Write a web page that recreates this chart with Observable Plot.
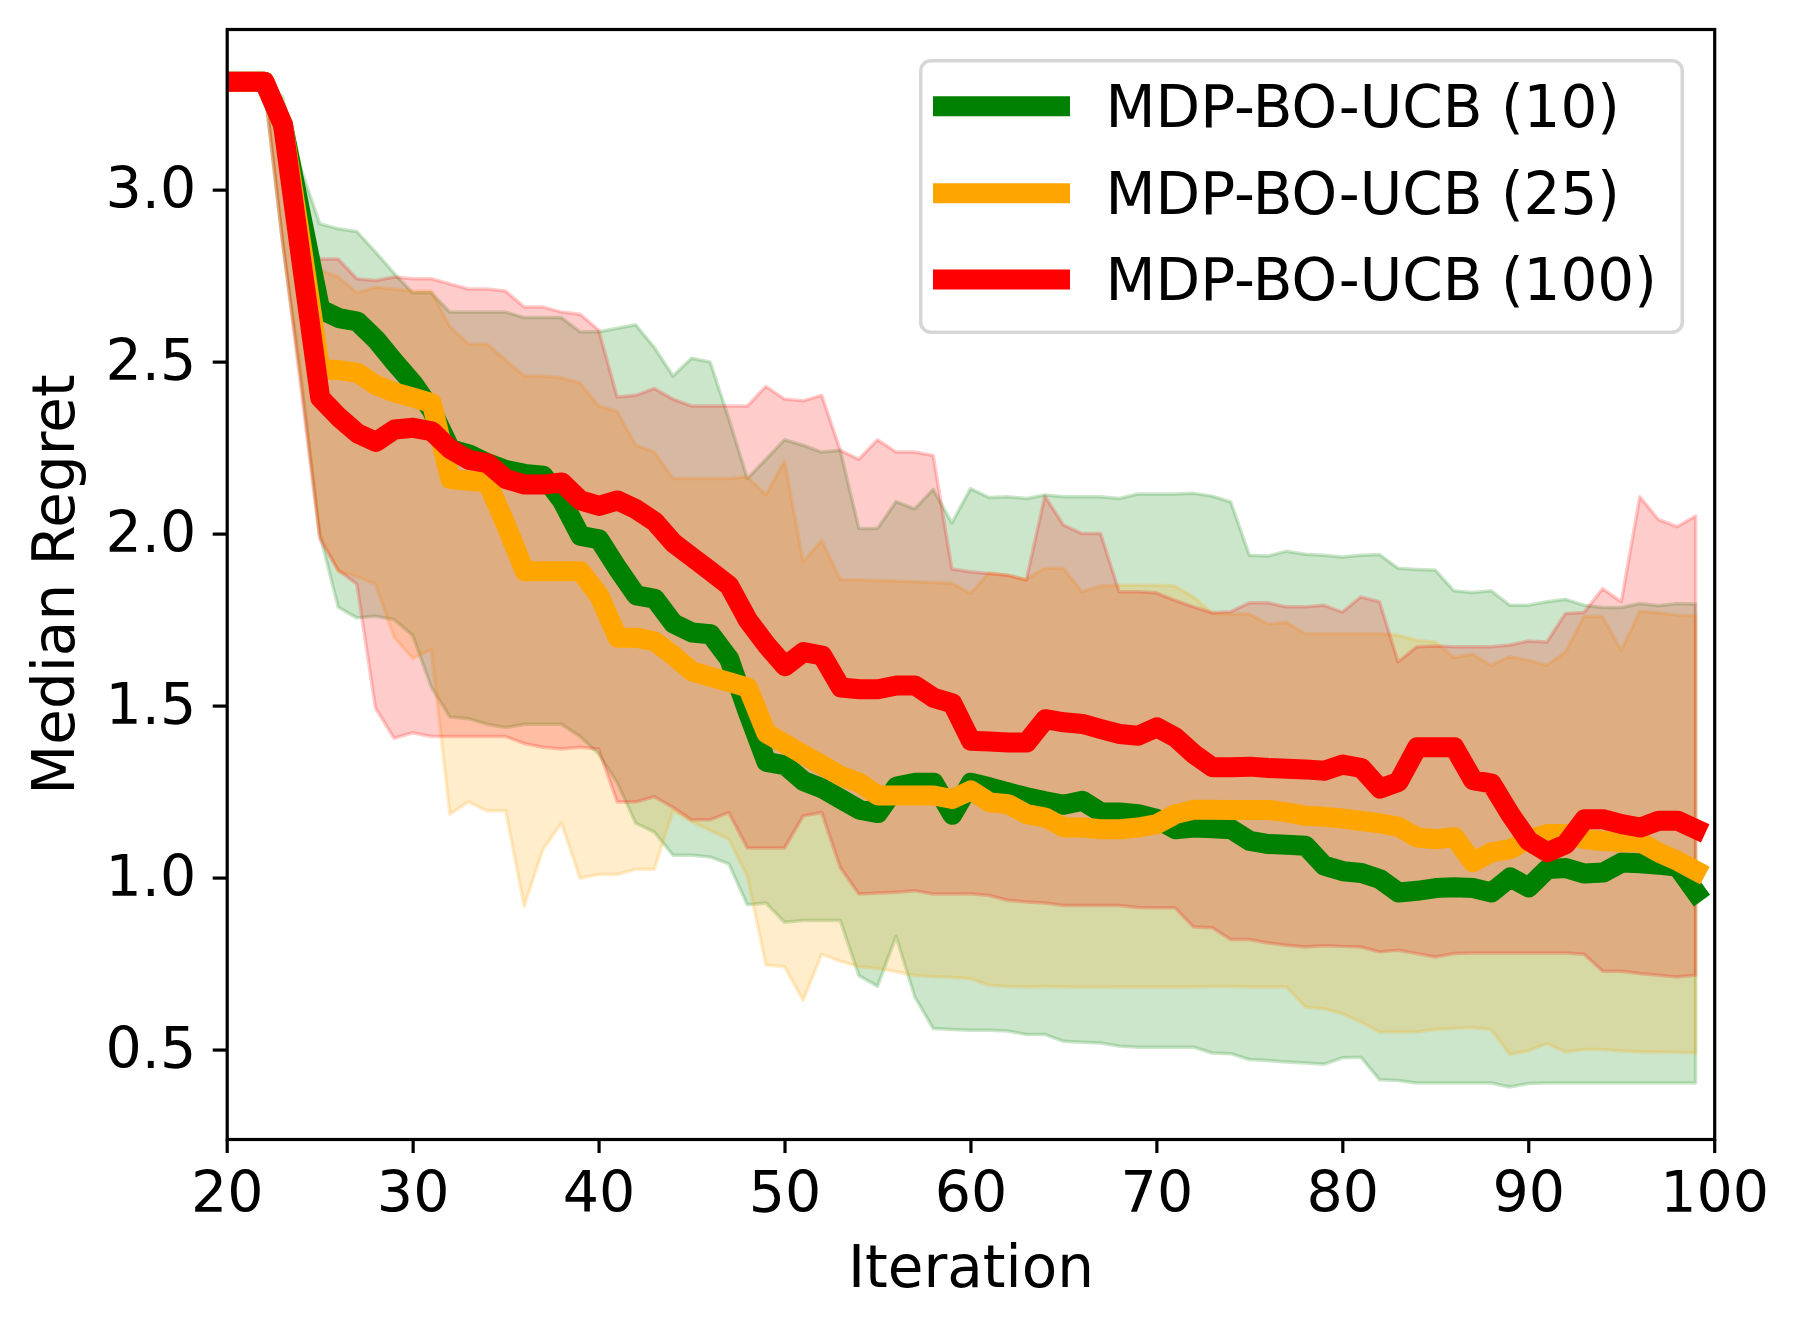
<!DOCTYPE html>
<html>
<head>
<meta charset="utf-8">
<script src="https://cdn.jsdelivr.net/npm/d3@7"></script>
<script src="https://cdn.jsdelivr.net/npm/@observablehq/plot@0.6"></script>
<style>
  html, body { margin: 0; padding: 0; background: #fff; }
  #chart { width: 1799px; height: 1328px; }
</style>
</head>
<body>
<div id="chart"></div>
<script>
// ---------- data ----------
const iterations = d3.range(20, 100); // 20 .. 99

const seriesNames = ["MDP-BO-UCB (10)", "MDP-BO-UCB (25)", "MDP-BO-UCB (100)"];
const seriesColors = ["#008000", "#FFA500", "#FF0000"];

const xTicks = [20, 30, 40, 50, 60, 70, 80, 90, 100];
const yTicks = [0.5, 1.0, 1.5, 2.0, 2.5, 3.0];

const greenMedian = [
  3.315, 3.315, 3.315, 3.19, 2.92, 2.654, 2.628, 2.618, 2.566, 2.500,
  2.438, 2.36, 2.247, 2.232, 2.206, 2.186, 2.175, 2.170, 2.098, 1.995,
  1.985, 1.90, 1.822, 1.812, 1.740, 1.714, 1.709, 1.637, 1.482, 1.338,
  1.328, 1.282, 1.261, 1.230, 1.199, 1.189, 1.266, 1.277, 1.277, 1.184,
  1.277, 1.264, 1.249, 1.235, 1.223, 1.213, 1.225, 1.191, 1.191, 1.186,
  1.172, 1.142, 1.147, 1.145, 1.142, 1.108, 1.099, 1.097, 1.094, 1.036,
  1.020, 1.015, 0.997, 0.958, 0.963, 0.971, 0.973, 0.971, 0.958, 1.002,
  0.973, 1.026, 1.029, 1.013, 1.016, 1.045, 1.043, 1.039, 1.033, 0.958
];
const greenLow = [
  3.315, 3.315, 3.315, 2.85, 2.45, 2.00, 1.786, 1.755, 1.760, 1.750,
  1.704, 1.554, 1.467, 1.462, 1.446, 1.436, 1.446, 1.446, 1.446, 1.410,
  1.359, 1.276, 1.158, 1.132, 1.065, 1.065, 1.060, 1.040, 0.921, 0.926,
  0.870, 0.875, 0.875, 0.875, 0.715, 0.684, 0.829, 0.654, 0.561, 0.558,
  0.556, 0.556, 0.554, 0.544, 0.544, 0.524, 0.521, 0.519, 0.510, 0.507,
  0.507, 0.507, 0.507, 0.490, 0.488, 0.471, 0.468, 0.464, 0.461, 0.457,
  0.476, 0.478, 0.412, 0.410, 0.403, 0.403, 0.403, 0.403, 0.403, 0.391,
  0.401, 0.403, 0.403, 0.403, 0.403, 0.403, 0.403, 0.403, 0.403, 0.403
];
const greenHigh = [
  3.315, 3.315, 3.315, 3.27, 3.06, 2.901, 2.886, 2.878, 2.819, 2.757,
  2.700, 2.700, 2.644, 2.644, 2.644, 2.644, 2.628, 2.628, 2.628, 2.587,
  2.587, 2.597, 2.607, 2.541, 2.458, 2.510, 2.499, 2.335, 2.160, 2.216,
  2.273, 2.257, 2.237, 2.242, 2.015, 2.015, 2.093, 2.072, 2.129, 2.031,
  2.131, 2.105, 2.107, 2.102, 2.112, 2.107, 2.107, 2.107, 2.102, 2.115,
  2.115, 2.115, 2.117, 2.109, 2.092, 1.937, 1.935, 1.949, 1.940, 1.937,
  1.932, 1.937, 1.939, 1.899, 1.896, 1.894, 1.834, 1.829, 1.834, 1.792,
  1.792, 1.802, 1.809, 1.792, 1.785, 1.785, 1.797, 1.790, 1.797, 1.795
];

const orangeMedian = [
  3.315, 3.315, 3.315, 3.19, 2.84, 2.479, 2.477, 2.469, 2.433, 2.412,
  2.397, 2.381, 2.160, 2.155, 2.150, 2.026, 1.892, 1.892, 1.892, 1.892,
  1.822, 1.699, 1.699, 1.688, 1.647, 1.601, 1.585, 1.570, 1.554, 1.421,
  1.390, 1.359, 1.328, 1.297, 1.277, 1.240, 1.240, 1.240, 1.240, 1.230,
  1.255, 1.220, 1.215, 1.186, 1.176, 1.147, 1.147, 1.142, 1.142, 1.147,
  1.157, 1.186, 1.199, 1.199, 1.198, 1.198, 1.198, 1.191, 1.181, 1.178,
  1.173, 1.166, 1.159, 1.149, 1.118, 1.113, 1.119, 1.046, 1.075, 1.084,
  1.113, 1.128, 1.128, 1.113, 1.108, 1.104, 1.104, 1.074, 1.050, 1.021
];
const orangeLow = [
  3.315, 3.315, 3.315, 2.85, 2.45, 2.00, 1.890, 1.875, 1.853, 1.699,
  1.637, 1.663, 1.184, 1.220, 1.194, 1.194, 0.916, 1.081, 1.158, 0.998,
  1.009, 1.009, 1.024, 1.024, 1.194, 1.163, 1.137, 1.112, 1.004, 0.746,
  0.741, 0.643, 0.777, 0.757, 0.741, 0.736, 0.726, 0.715, 0.712, 0.710,
  0.706, 0.687, 0.683, 0.682, 0.683, 0.682, 0.681, 0.681, 0.682, 0.682,
  0.682, 0.682, 0.682, 0.683, 0.683, 0.682, 0.682, 0.682, 0.624, 0.619,
  0.604, 0.580, 0.551, 0.551, 0.551, 0.558, 0.561, 0.564, 0.558, 0.486,
  0.496, 0.517, 0.493, 0.500, 0.500, 0.496, 0.493, 0.493, 0.492, 0.490
];
const orangeHigh = [
  3.315, 3.315, 3.315, 3.26, 2.92, 2.767, 2.746, 2.700, 2.716, 2.711,
  2.705, 2.705, 2.602, 2.551, 2.551, 2.505, 2.458, 2.458, 2.453, 2.438,
  2.371, 2.355, 2.257, 2.237, 2.160, 2.160, 2.160, 2.160, 2.165, 2.113,
  2.211, 1.918, 1.980, 1.866, 1.866, 1.864, 1.862, 1.860, 1.858, 1.856,
  1.826, 1.886, 1.879, 1.867, 1.899, 1.899, 1.831, 1.848, 1.850, 1.850,
  1.850, 1.848, 1.816, 1.768, 1.766, 1.766, 1.737, 1.742, 1.709, 1.709,
  1.709, 1.709, 1.709, 1.705, 1.690, 1.685, 1.640, 1.649, 1.617, 1.642,
  1.632, 1.617, 1.656, 1.760, 1.758, 1.661, 1.774, 1.770, 1.763, 1.761
];

const redMedian = [
  3.315, 3.315, 3.315, 3.19, 2.79, 2.396, 2.340, 2.293, 2.268, 2.304,
  2.309, 2.299, 2.247, 2.216, 2.206, 2.160, 2.144, 2.144, 2.150, 2.098,
  2.082, 2.098, 2.072, 2.036, 1.974, 1.933, 1.892, 1.850, 1.750, 1.678,
  1.616, 1.657, 1.647, 1.554, 1.549, 1.549, 1.560, 1.560, 1.524, 1.508,
  1.399, 1.397, 1.394, 1.394, 1.462, 1.453, 1.448, 1.433, 1.419, 1.414,
  1.438, 1.409, 1.360, 1.322, 1.322, 1.324, 1.320, 1.318, 1.316, 1.312,
  1.330, 1.320, 1.260, 1.280, 1.380, 1.380, 1.380, 1.285, 1.275, 1.186,
  1.108, 1.075, 1.099, 1.171, 1.171, 1.157, 1.147, 1.167, 1.167, 1.142
];
const redLow = [
  3.315, 3.315, 3.315, 2.85, 2.42, 1.985, 1.893, 1.853, 1.493, 1.405,
  1.421, 1.410, 1.410, 1.410, 1.410, 1.410, 1.390, 1.379, 1.374, 1.379,
  1.374, 1.220, 1.220, 1.235, 1.204, 1.168, 1.168, 1.189, 1.086, 1.086,
  1.086, 1.179, 1.189, 1.029, 0.952, 0.955, 0.957, 0.962, 0.952, 0.952,
  0.953, 0.948, 0.934, 0.929, 0.926, 0.919, 0.919, 0.919, 0.919, 0.913,
  0.912, 0.912, 0.856, 0.854, 0.820, 0.820, 0.810, 0.803, 0.798, 0.802,
  0.800, 0.798, 0.784, 0.789, 0.779, 0.769, 0.779, 0.781, 0.781, 0.781,
  0.781, 0.781, 0.781, 0.777, 0.728, 0.728, 0.721, 0.716, 0.711, 0.716
];
const redHigh = [
  3.315, 3.315, 3.315, 3.25, 2.90, 2.798, 2.798, 2.741, 2.736, 2.746,
  2.741, 2.741, 2.726, 2.711, 2.711, 2.705, 2.659, 2.659, 2.644, 2.638,
  2.592, 2.397, 2.402, 2.422, 2.391, 2.371, 2.371, 2.371, 2.371, 2.428,
  2.391, 2.386, 2.402, 2.242, 2.216, 2.273, 2.237, 2.237, 2.227, 1.897,
  1.889, 1.884, 1.879, 1.865, 2.109, 2.025, 2.000, 2.000, 1.831, 1.831,
  1.828, 1.806, 1.787, 1.770, 1.773, 1.799, 1.799, 1.787, 1.787, 1.792,
  1.772, 1.816, 1.802, 1.627, 1.671, 1.673, 1.671, 1.671, 1.671, 1.676,
  1.688, 1.685, 1.768, 1.771, 1.840, 1.802, 2.107, 2.041, 2.020, 2.051
];

// ---------- build tables ----------
const seriesData = [
  [greenMedian, greenLow, greenHigh],
  [orangeMedian, orangeLow, orangeHigh],
  [redMedian, redLow, redHigh]
];
const tables = seriesData.map(([med, lo, hi], s) =>
  iterations.map((it, i) => ({iteration: it, median: med[i], low: lo[i], high: hi[i], name: seriesNames[s]}))
);

const FONT = "'DejaVu Sans', 'Liberation Sans', sans-serif";
const FS = 57;      // tick labels
const FS_LABEL = 58; // axis labels and legend
const LINE_W = 20;

const areaMarks = tables.map((rows, s) =>
  Plot.areaY(rows, {
    x: "iteration", y1: "low", y2: "high",
    fill: seriesColors[s], fillOpacity: 0.2,
    stroke: seriesColors[s], strokeOpacity: 0.2, strokeWidth: 3.5,
    strokeLinejoin: "round", clip: true
  })
);
const lineMarks = tables.map((rows, s) =>
  Plot.lineY(rows, {
    x: "iteration", y: "median",
    stroke: seriesColors[s], strokeWidth: LINE_W,
    strokeLinejoin: "round", strokeLinecap: "square", clip: true
  })
);

const chart = Plot.plot({
  width: 1799,
  height: 1328,
  marginLeft: 226.7,
  marginRight: 84.8,
  marginTop: 29,
  marginBottom: 189,
  style: {fontFamily: FONT, fontSize: FS + "px", background: "#fff", color: "#000", overflow: "visible"},
  x: {domain: [20, 100]},
  y: {domain: [0.240, 3.467]},
  marks: [
    ...areaMarks,
    ...lineMarks,
    Plot.frame({stroke: "#000", strokeWidth: 3.2}),
    Plot.axisX({ticks: xTicks, tickSize: 14, tickPadding: 18, strokeWidth: 3.2, label: null,
                tickFormat: d => String(d), fontSize: FS}),
    Plot.axisY({ticks: yTicks, tickSize: 14, tickPadding: 17, strokeWidth: 3.2, label: null,
                tickFormat: d3.format(".1f"), fontSize: FS}),
    Plot.text(["Iteration"], {text: d => d, frameAnchor: "bottom", dy: 147, lineAnchor: "bottom",
                              textAnchor: "middle", fontSize: FS_LABEL}),
    Plot.text(["Median Regret"], {text: d => d, frameAnchor: "left", dx: 73.5 - 226.7, rotate: -90,
                                  textAnchor: "middle", lineAnchor: "bottom", fontSize: FS_LABEL})
  ]
});

// ---------- legend (inside the axes, upper right) ----------
const svg = d3.select(chart);
const lg = svg.append("g").attr("class", "legend").attr("text-anchor", "start");
const box = {x: 919, y: 59, w: 765, h: 275};
lg.append("rect")
  .attr("x", box.x + 1.75).attr("y", box.y + 1.75)
  .attr("width", box.w - 3.5).attr("height", box.h - 3.5)
  .attr("rx", 10).attr("ry", 10)
  .attr("fill", "#fff").attr("fill-opacity", 0.8)
  .attr("stroke", "#cccccc").attr("stroke-opacity", 0.8).attr("stroke-width", 3.5);
const rowY = [106.2, 193.3, 279.4];
seriesNames.forEach((name, i) => {
  lg.append("line")
    .attr("x1", 933).attr("x2", 1070)
    .attr("y1", rowY[i]).attr("y2", rowY[i])
    .attr("stroke", seriesColors[i]).attr("stroke-width", LINE_W);
  lg.append("text")
    .attr("x", 1105.5).attr("y", rowY[i] + 21)
    .attr("text-anchor", "start")
    .attr("font-family", FONT).attr("font-size", FS_LABEL)
    .attr("fill", "#000")
    .text(name);
});

document.getElementById("chart").appendChild(chart);
</script>
</body>
</html>
